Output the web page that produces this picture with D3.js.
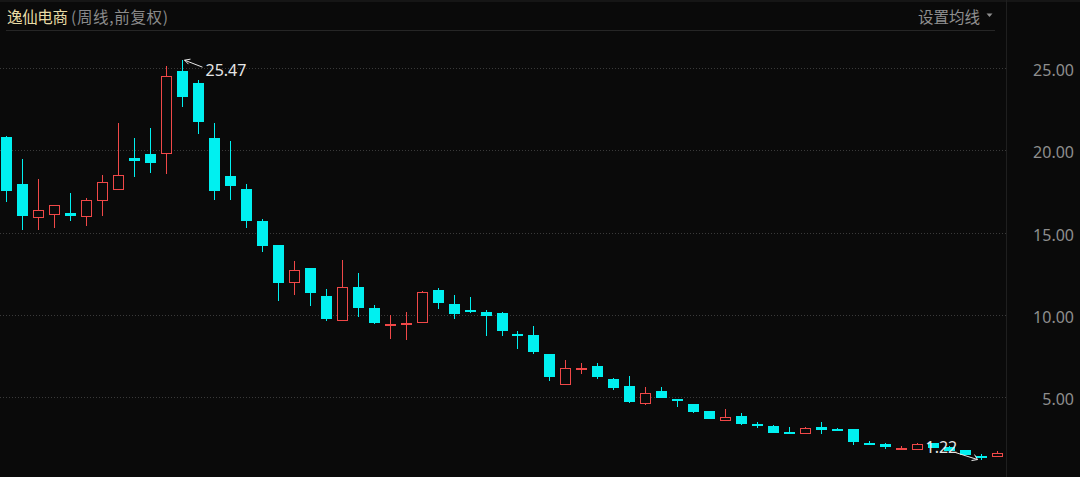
<!DOCTYPE html>
<html><head><meta charset="utf-8">
<script src="https://cdn.jsdelivr.net/npm/d3@7/dist/d3.min.js"></script>
<style>
html,body{margin:0;padding:0;background:#0a0a0a;overflow:hidden;}
svg{display:block;}
</style></head>
<body><svg id="chart" width="1080" height="477"></svg>
<script>
// Weekly candles (前复权)
const opens  = [20.82,17.95,15.97,16.11,16.21,16.01,16.96,17.67,19.51,19.77,19.85,24.81,24.07,20.73,18.44,17.65,15.72,14.25,11.98,12.87,11.17,9.69,11.70,10.40,9.37,9.47,9.59,11.53,10.65,10.30,10.20,10.10,8.84,8.76,7.65,5.83,6.72,6.90,6.11,5.69,4.67,5.38,4.90,4.57,4.15,3.62,3.85,3.40,3.24,2.89,2.81,3.21,3.06,3.08,2.23,2.15,1.88,1.88,2.21,2.00,1.78,1.43,1.42];
const highs  = [20.85,19.45,18.27,16.70,17.40,17.10,18.50,21.64,20.73,21.35,25.12,25.47,24.28,21.64,20.56,17.95,15.81,14.25,13.29,12.87,11.58,13.34,12.55,10.59,10.00,10.20,11.47,11.64,11.21,11.07,10.28,10.16,9.03,9.31,7.65,7.26,7.08,7.06,6.17,6.29,5.64,5.63,4.90,4.59,4.15,4.27,4.05,3.48,3.30,3.20,3.18,3.50,3.14,3.08,2.33,2.23,2.04,2.25,2.25,2.02,1.82,1.58,1.76];
const lows   = [16.86,15.16,15.16,15.30,15.72,15.40,16.01,17.67,18.39,18.60,18.58,22.64,20.99,17.00,17.00,15.26,13.84,10.87,11.23,10.56,9.61,9.61,9.89,9.45,8.56,8.50,9.55,10.36,9.77,10.12,8.74,8.74,7.93,7.65,6.01,5.83,6.43,6.13,5.46,4.67,4.53,4.94,4.43,4.05,3.68,3.62,3.30,3.15,2.83,2.79,2.81,2.75,2.94,2.09,2.12,1.88,1.88,1.88,1.90,1.72,1.50,1.22,1.42];
const closes = [17.54,16.01,16.35,16.68,16.01,16.98,18.05,18.48,19.37,19.21,24.49,23.23,21.70,17.54,17.83,15.70,14.20,11.92,12.71,11.33,9.77,11.70,10.44,9.49,9.45,9.53,11.38,10.71,10.08,10.20,9.95,9.04,8.76,7.77,6.23,6.76,6.80,6.25,5.58,4.73,5.26,4.94,4.76,4.13,3.68,3.80,3.36,3.28,2.83,2.79,3.12,3.01,2.95,2.30,2.12,1.98,1.94,2.19,1.94,1.74,1.51,1.40,1.60];
const yTicks = [5, 10, 15, 20, 25];
const titleName = "逸仙电商";
const titleNote = "(周线,前复权)";
const maLabel = "设置均线";

const svg = d3.select("#chart");
const W = 1080, H = 477;
const plotRight = 1006;
const UP = "#f04848", DOWN = "#00f0f0";
const idx = d3.range(opens.length);

const x = d3.scaleBand().domain(idx).range([-1, 1005]).paddingInner(0);
const y = d3.scaleLinear().domain([5, 25]).range([397.3, 67.9]);
const cx = i => Math.floor(x(i) + x.bandwidth() / 2) + 0.5;
const ry = v => Math.round(y(v));

svg.append("rect").attr("width", W).attr("height", H).attr("fill", "#0a0a0a");
svg.append("rect").attr("x", 0).attr("y", 0).attr("width", W).attr("height", 2).attr("fill", "#161616");

// separator
svg.append("line").attr("x1", plotRight + 0.5).attr("x2", plotRight + 0.5)
  .attr("y1", 0).attr("y2", H).attr("stroke", "#1f1f1f").attr("stroke-width", 1);

// title
svg.append("line").attr("x1", 6).attr("x2", 995).attr("y1", 30.5).attr("y2", 30.5)
  .attr("stroke", "#262626");
svg.append("text").attr("x", 7).attr("y", 23)
  .attr("font-family", "'Noto Sans CJK SC', sans-serif").attr("font-size", 15.5)
  .attr("fill", "#e8dca6").attr("textLength", 61).attr("lengthAdjust", "spacing").text(titleName);
svg.append("text").attr("x", 71).attr("y", 23)
  .attr("font-family", "'Noto Sans CJK SC', sans-serif").attr("font-size", 15.5)
  .attr("fill", "#8a8a8a").attr("textLength", 97).attr("lengthAdjust", "spacing").text(titleNote);

svg.append("text").attr("x", 980).attr("y", 23).attr("text-anchor", "end")
  .attr("font-family", "'Noto Sans CJK SC', sans-serif").attr("font-size", 15.5)
  .attr("fill", "#8f8f8f").text(maLabel);
svg.append("path").attr("d", "M986.5,13.5 L992.5,13.5 L989.5,17 Z").attr("fill", "#8f8f8f");

// grid
svg.append("g").selectAll("line").data(yTicks).join("line")
  .attr("x1", 0).attr("x2", plotRight).attr("y1", d => ry(d) + 0.5).attr("y2", d => ry(d) + 0.5)
  .attr("stroke", "#3a3a3a").attr("stroke-dasharray", "1,2");

// right axis via d3.axisRight
const axis = d3.axisRight(y).tickValues(yTicks).tickFormat(d3.format(".2f")).tickSize(0).tickPadding(0);
const ag = svg.append("g").attr("transform", "translate(1074,2.5)").call(axis);
ag.select(".domain").remove();
ag.selectAll("text").attr("text-anchor", "end").attr("x", 0)
  .attr("fill", "#8e8e8e").attr("font-size", 16)
  .attr("font-family", "'Noto Sans', sans-serif");

// candles
const g = svg.append("g");
idx.forEach(i => {
  const up = closes[i] > opens[i];
  const col = up ? UP : DOWN;
  const c = cx(i);
  const top = ry(Math.max(opens[i], closes[i]));
  const bot = ry(Math.min(opens[i], closes[i]));
  g.append("line").attr("x1", c).attr("x2", c)
    .attr("y1", ry(highs[i])).attr("y2", ry(lows[i]))
    .attr("stroke", col).attr("stroke-width", 1);
  if (up) {
    const h = Math.max(bot - top, 1);
    g.append("rect").attr("x", c - 5).attr("y", top + 0.5)
      .attr("width", 10).attr("height", h)
      .attr("fill", "#0a0a0a").attr("stroke", col).attr("stroke-width", 1);
  } else {
    const h = Math.max(bot - top, 2);
    g.append("rect").attr("x", c - 5.5).attr("y", top)
      .attr("width", 11).attr("height", h).attr("fill", col);
  }
});

// max / min annotations
const iMax = d3.maxIndex(highs), iMin = d3.minIndex(lows);
const ann = svg.append("g").attr("font-family", "'Noto Sans', sans-serif").attr("font-size", 16).attr("fill", "#e6e6e6");
const mx = cx(iMax) + 2, my = y(highs[iMax]);
ann.append("line").attr("x1", mx).attr("y1", my).attr("x2", mx + 18).attr("y2", my + 7)
  .attr("stroke", "#e6e6e6");
ann.append("path").attr("d", `M${mx},${my} l6,-1 M${mx},${my} l4,4`).attr("stroke", "#e6e6e6").attr("fill", "none");
ann.append("text").attr("x", mx + 21).attr("y", my + 16).text(highs[iMax].toFixed(2));

const nx = cx(iMin) - 4, ny = y(lows[iMin]);
ann.append("line").attr("x1", nx).attr("y1", ny).attr("x2", nx - 22).attr("y2", ny - 7)
  .attr("stroke", "#e6e6e6");
ann.append("path").attr("d", `M${nx},${ny} l-6,1 M${nx},${ny} l-3,-5`).attr("stroke", "#e6e6e6").attr("fill", "none");
ann.append("text").attr("x", nx - 52).attr("y", ny - 7).text(lows[iMin].toFixed(2));
</script></body></html>
